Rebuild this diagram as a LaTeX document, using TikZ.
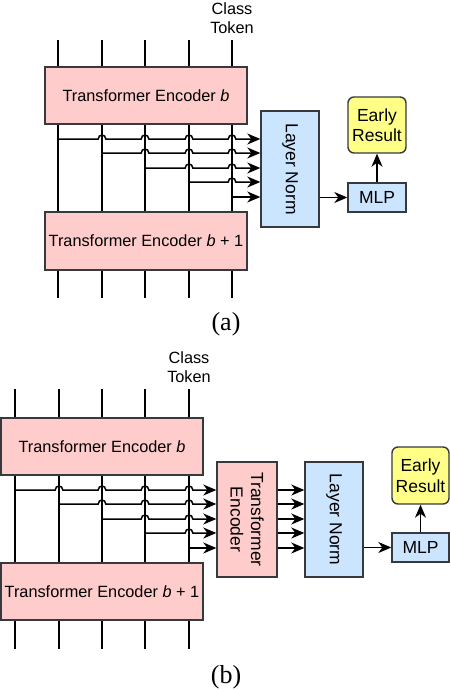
\documentclass[tikz,border=0pt]{standalone}
\usepackage{fontspec}
\setmainfont{Liberation Sans}
\newfontfamily\capfont{Liberation Serif}
\usetikzlibrary{arrows.meta,calc}
\definecolor{pinkfill}{HTML}{FFCCCC}
\definecolor{bluefill}{HTML}{CCE5FF}
\definecolor{yellowfill}{HTML}{FFFF88}
\definecolor{edge}{HTML}{36393D}
\newcommand\hopline[4]{%
  \draw[conn,tip] (#1,#2) \foreach \h in {#3}{ -- (\h-3.8,#2) .. controls (\h-3.8,#2-5.2) and (\h+3.8,#2-5.2) .. (\h+3.8,#2)} -- (#4.west |- 0,#2);}
\begin{document}
\begin{tikzpicture}[x=1pt,y=-1pt,
  every node/.style={font=\fontsize{16.3}{19.5}\selectfont, inner sep=0pt},
  big/.style={font=\fontsize{17.5}{20.5}\selectfont},
  box/.style={draw=edge, line width=1.4pt},
  pinkbox/.style={box, fill=pinkfill},
  bluebox/.style={box, fill=bluefill},
  yelbox/.style={box, fill=yellowfill, rounded corners=6pt},
  conn/.style={line width=1.5pt, black},
  tip/.style={-{Stealth[length=13pt,width=11pt,inset=4pt]}},
  caplabel/.style={font=\capfont\fontsize{26}{28}\selectfont}]
\useasboundingbox (0,0) rectangle (450,690);

% ---------------- panel (a) ----------------
\node[align=center] (clsa) at (232,18) {Class\\Token};
\foreach \n/\xx in {1/58,2/102,3/145,4/189,5/232}{
  \coordinate (at\n) at (\xx,40);
  \coordinate (ab\n) at (\xx,298);
  \draw[conn] (at\n) -- (ab\n);
}
\node[pinkbox, minimum width=202pt, minimum height=57pt] (tea) at (146,95.5) {Transformer Encoder \textit{b}};
\node[pinkbox, minimum width=202pt, minimum height=58pt] (tea1) at (146,241) {Transformer Encoder \textit{b} + 1};
\node[bluebox, minimum width=58pt, minimum height=116pt] (lna) at (290,169) {};
\node[rotate=-90, big] at (lna.center) {Layer Norm};
\node[yelbox, big, minimum width=58pt, minimum height=56pt, align=center] (era) at (377,125) {Early\\Result};
\node[bluebox, big, minimum width=58pt, minimum height=29pt] (mlpa) at (377,197.5) {MLP};

\hopline{58}{139}{102,145,189,232}{lna}
\hopline{102}{153}{145,189,232}{lna}
\hopline{145}{168}{189,232}{lna}
\hopline{189}{182}{232}{lna}
\draw[conn,tip] (232,197) -- (lna.west |- 0,197);
\draw[conn,tip] (lna.east |- mlpa) -- (mlpa.west);
\draw[conn,tip] (mlpa.north) -- (era.south);
\node[caplabel] (capa) at (226,324) {(a)};

% ---------------- panel (b) ----------------
\node[align=center] (clsb) at (189,367) {Class\\Token};
\foreach \n/\xx in {1/15,2/59,3/102,4/145,5/189}{
  \coordinate (bt\n) at (\xx,389);
  \coordinate (bb\n) at (\xx,649);
  \draw[conn] (bt\n) -- (bb\n);
}
\node[pinkbox, minimum width=202pt, minimum height=57pt] (teb) at (102,446.5) {Transformer Encoder \textit{b}};
\node[pinkbox, minimum width=202pt, minimum height=57pt] (teb1) at (102,591.5) {Transformer Encoder \textit{b} + 1};
\node[pinkbox, minimum width=60pt, minimum height=115pt] (tev) at (247,519.5) {};
\node[rotate=-90, big, align=center] at (tev.center) {Transformer\\Encoder};
\node[bluebox, minimum width=58pt, minimum height=115pt] (lnb) at (334,519.5) {};
\node[rotate=-90, big] at (lnb.center) {Layer Norm};
\node[yelbox, big, minimum width=57pt, minimum height=57pt, align=center] (erb) at (420.5,475.5) {Early\\Result};
\node[bluebox, big, minimum width=57pt, minimum height=29pt] (mlpb) at (420.5,547.5) {MLP};

\hopline{15}{490}{59,102,145,189}{tev}
\hopline{59}{504}{102,145,189}{tev}
\hopline{102}{519}{145,189}{tev}
\hopline{145}{533}{189}{tev}
\draw[conn,tip] (189,548) -- (tev.west |- 0,548);
\foreach \yy in {490,504,519,533,548}{
  \draw[conn,tip] (tev.east |- 0,\yy) -- (lnb.west |- 0,\yy);
}
\draw[conn,tip] (lnb.east |- mlpb) -- (mlpb.west);
\draw[conn,tip] (mlpb.north) -- (erb.south);
\node[caplabel] (capb) at (226,677) {(b)};
\end{tikzpicture}
\end{document}
